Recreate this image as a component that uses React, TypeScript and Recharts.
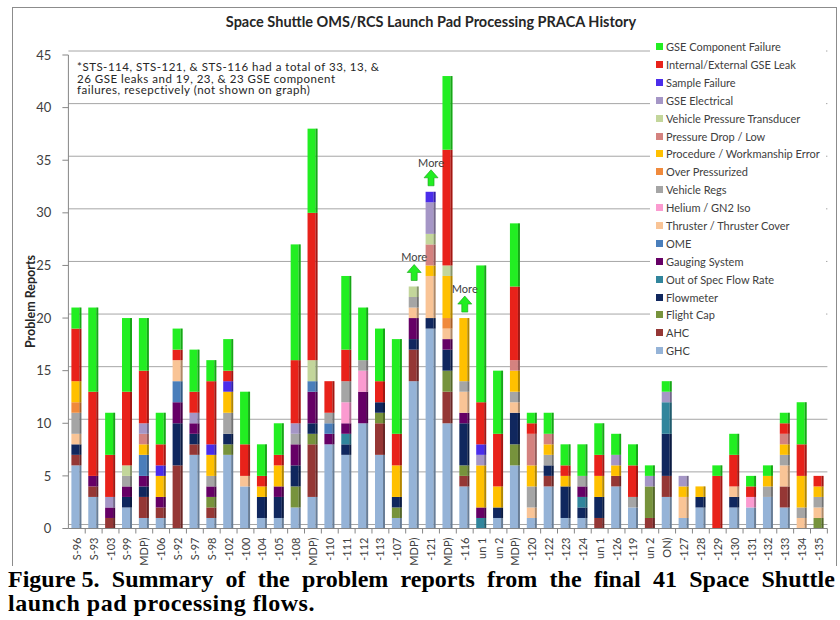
import React from "react";
import { Bar, BarChart, CartesianGrid, Legend, ReferenceDot, XAxis, YAxis } from "recharts";

// visible (cropped) flow labels, left to right
const flows = [
  "S-96", "S-93", "-103", "S-99", "MDP)", "-106", "S-92", "S-97", "S-98", "-102",
  "-100", "-104", "-105", "-108", "MDP)", "-110", "-111", "-112", "-113", "-107",
  "MDP)", "-121", "MDP)", "-116", "un 1", "un 2", "MDP)", "-120", "-122", "-123",
  "-124", "un 1", "-126", "-119", "un 2", "ON)", "-127", "-128", "-129", "-130",
  "-131", "-132", "-133", "-134", "-135",
];

const ghc = [6, 3, 0, 2, 1, 1, 0, 7, 1, 7, 4, 1, 1, 2, 3, 8, 7, 10, 7, 1, 14, 19, 10, 4, 0, 1, 6, 1, 4, 1, 1, 0, 4, 2, 0, 3, 1, 2, 0, 2, 2, 3, 2, 0, 0];
const ahc = [1, 1, 1, 0, 2, 1, 6, 1, 1, 0, 0, 0, 0, 0, 5, 0, 0, 0, 3, 0, 3, 0, 3, 1, 0, 0, 0, 0, 1, 0, 0, 1, 1, 0, 1, 2, 0, 0, 0, 0, 0, 0, 2, 0, 0];
const flightCap = [0, 0, 0, 0, 0, 0, 0, 0, 1, 1, 0, 0, 0, 2, 1, 0, 0, 0, 1, 1, 0, 0, 2, 1, 0, 0, 2, 0, 0, 0, 0, 0, 0, 0, 3, 0, 0, 0, 0, 0, 0, 0, 0, 0, 1];
const flowmeter = [1, 0, 0, 1, 1, 0, 4, 1, 0, 1, 0, 2, 2, 2, 1, 0, 1, 0, 1, 1, 1, 1, 2, 4, 0, 1, 3, 0, 1, 3, 1, 2, 0, 0, 0, 4, 0, 1, 0, 1, 0, 0, 0, 0, 0];
const outOfSpec = [0, 0, 0, 0, 0, 0, 0, 0, 0, 0, 0, 0, 0, 0, 0, 0, 1, 0, 0, 0, 0, 0, 0, 0, 1, 0, 0, 0, 0, 0, 1, 0, 0, 0, 0, 3, 0, 0, 0, 0, 0, 0, 0, 0, 0];
const gauging = [0, 1, 1, 1, 1, 1, 2, 1, 1, 0, 0, 0, 1, 2, 3, 1, 1, 3, 0, 0, 2, 0, 1, 1, 1, 0, 0, 0, 0, 0, 1, 0, 0, 0, 0, 0, 0, 0, 0, 0, 0, 0, 0, 0, 0];
const ome = [0, 0, 0, 0, 2, 0, 2, 0, 0, 0, 0, 0, 0, 0, 1, 1, 0, 0, 0, 0, 0, 0, 0, 0, 0, 0, 0, 0, 0, 0, 0, 0, 0, 0, 0, 0, 0, 0, 0, 0, 0, 0, 0, 0, 0];
const thruster = [1, 0, 0, 0, 0, 0, 2, 0, 0, 0, 1, 0, 0, 0, 0, 0, 0, 0, 0, 0, 1, 4, 1, 2, 0, 0, 1, 1, 0, 0, 0, 0, 0, 0, 0, 0, 2, 0, 0, 1, 0, 0, 2, 1, 1];
const helium = [0, 0, 0, 0, 0, 0, 0, 0, 0, 0, 0, 0, 0, 0, 0, 0, 2, 2, 0, 0, 0, 0, 0, 0, 0, 0, 0, 0, 0, 0, 0, 0, 0, 0, 0, 0, 0, 0, 0, 0, 1, 0, 0, 0, 0];
const vehicleRegs = [2, 0, 0, 1, 0, 0, 0, 0, 1, 2, 0, 0, 0, 1, 0, 1, 2, 1, 0, 0, 1, 0, 0, 1, 0, 0, 1, 2, 1, 0, 1, 0, 0, 1, 0, 0, 0, 0, 0, 0, 0, 1, 1, 1, 1];
const overPress = [1, 0, 0, 0, 0, 0, 0, 0, 0, 0, 0, 0, 0, 0, 0, 0, 0, 0, 0, 0, 0, 0, 1, 0, 0, 0, 0, 0, 0, 0, 0, 0, 0, 0, 0, 0, 0, 0, 0, 0, 0, 0, 0, 0, 0];
const procedure = [2, 0, 0, 0, 1, 2, 0, 0, 2, 2, 0, 1, 2, 0, 0, 0, 0, 0, 0, 3, 0, 1, 4, 6, 4, 2, 2, 2, 1, 1, 0, 2, 1, 0, 0, 0, 1, 1, 0, 0, 0, 1, 1, 3, 1];
const pressDrop = [0, 0, 0, 0, 1, 0, 0, 0, 0, 0, 0, 0, 0, 0, 0, 0, 0, 0, 0, 0, 0, 2, 0, 0, 0, 0, 1, 3, 1, 0, 0, 0, 0, 0, 0, 0, 0, 0, 0, 0, 0, 0, 1, 0, 0];
const vpt = [0, 0, 0, 1, 0, 0, 0, 0, 0, 0, 0, 0, 0, 0, 2, 0, 0, 0, 0, 0, 1, 1, 1, 0, 0, 0, 0, 0, 0, 0, 0, 0, 0, 0, 0, 0, 0, 0, 0, 0, 0, 0, 0, 0, 0];
const gseElec = [0, 0, 1, 0, 1, 0, 0, 1, 0, 0, 0, 0, 0, 1, 0, 0, 0, 0, 0, 0, 0, 3, 0, 0, 1, 0, 0, 0, 0, 0, 0, 0, 1, 0, 1, 1, 1, 0, 0, 0, 0, 0, 0, 0, 0];
const sample = [0, 0, 0, 0, 0, 1, 0, 0, 1, 1, 0, 0, 0, 0, 0, 0, 0, 0, 0, 0, 0, 1, 0, 0, 1, 0, 0, 0, 0, 0, 0, 0, 0, 0, 0, 0, 0, 0, 0, 0, 0, 0, 0, 0, 0];
const gseLeak = [5, 8, 4, 7, 5, 2, 1, 2, 6, 1, 3, 1, 1, 6, 14, 3, 3, 0, 2, 3, 0, 0, 11, 0, 4, 5, 7, 1, 0, 1, 0, 2, 0, 3, 0, 0, 0, 0, 5, 3, 1, 0, 1, 3, 1];
const gseComp = [2, 8, 4, 7, 5, 3, 2, 4, 2, 3, 5, 3, 3, 11, 8, 0, 7, 5, 5, 9, 0, 0, 7, 0, 13, 6, 6, 1, 2, 2, 3, 3, 2, 2, 1, 1, 0, 0, 1, 2, 1, 1, 1, 4, 0];

const yTicks = [0, 5, 10, 15, 20, 25, 30, 35, 40, 45];
// flows whose count runs off the graph (see note)
const moreAt = [20, 21, 23];

// bottom of stack first
const series = [
  { key: "ghc", name: "GHC", color: "#95B3D7", values: ghc },
  { key: "ahc", name: "AHC", color: "#953735", values: ahc },
  { key: "flightCap", name: "Flight Cap", color: "#77933C", values: flightCap },
  { key: "flowmeter", name: "Flowmeter", color: "#10275E", values: flowmeter },
  { key: "outOfSpec", name: "Out of Spec Flow Rate", color: "#31859C", values: outOfSpec },
  { key: "gauging", name: "Gauging System", color: "#660066", values: gauging },
  { key: "ome", name: "OME", color: "#4A7EBB", values: ome },
  { key: "thruster", name: "Thruster / Thruster Cover", color: "#F9C496", values: thruster },
  { key: "helium", name: "Helium / GN2 Iso", color: "#FB9BD0", values: helium },
  { key: "vehicleRegs", name: "Vehicle Regs", color: "#A5A5A5", values: vehicleRegs },
  { key: "overPress", name: "Over Pressurized", color: "#F08A3C", values: overPress },
  { key: "procedure", name: "Procedure / Workmanship Error", color: "#FFC000", values: procedure },
  { key: "pressDrop", name: "Pressure Drop / Low", color: "#D4827F", values: pressDrop },
  { key: "vpt", name: "Vehicle Pressure Transducer", color: "#C3D69B", values: vpt },
  { key: "gseElec", name: "GSE Electrical", color: "#A596C6", values: gseElec },
  { key: "sample", name: "Sample Failure", color: "#4B2DEB", values: sample },
  { key: "gseLeak", name: "Internal/External GSE Leak", color: "#E8221A", values: gseLeak },
  { key: "gseComp", name: "GSE Component Failure", color: "#22EE22", values: gseComp },
];

const data = flows.map((flow, i) => {
  const row: Record<string, any> = { key: String(i), flow };
  series.forEach((s) => (row[s.key] = s.values[i]));
  return row;
});
const totals = flows.map((_, i) => series.reduce((acc, s) => acc + s.values[i], 0));

function Bar3D(props: any) {
  const { x, y, width, height, fill } = props;
  if (!height || height <= 0) return null;
  const side = 2;
  return (
    <g>
      <rect x={x} y={y} width={width - side} height={height} fill={fill} />
      <rect x={x + width - side} y={y} width={side} height={height} fill={fill} />
      <rect x={x + width - side} y={y} width={side} height={height} fill="#000" fillOpacity={0.3} />
    </g>
  );
}

function MoreMark({ cx, cy }: any) {
  return (
    <g>
      <text x={cx} y={cy - 25} textAnchor="middle" fontSize={11} fill="#404040">
        More
      </text>
      <path
        d={`M${cx - 3},${cy - 6} v-8 h-4 l7,-8 l7,8 h-4 v8 z`}
        fill="#22EE22"
        stroke="#14A014"
        strokeWidth={0.6}
      />
    </g>
  );
}

function FlowTick({ x, y, payload }: any) {
  const label = flows[Number(payload.value)];
  return (
    <g>
      <line x1={x + 8.4} x2={x + 8.4} y1={y - 8} y2={y - 3} stroke="#868686" />
      <text transform={`translate(${x + 4},${y + 1}) rotate(-90)`} textAnchor="end" fontSize={11} fill="#404040">
        {label}
      </text>
    </g>
  );
}

function LegendList() {
  const items = [...series].reverse();
  return (
    <div style={{ background: "#fff", padding: 0 }}>
      {items.map((s) => (
        <div key={s.key} style={{ height: 17.9, display: "flex", alignItems: "center", fontSize: 11, color: "#404040" }}>
          <span style={{ width: 7, height: 7, background: s.color, marginLeft: 6, marginRight: 3, display: "inline-block" }} />
          <span style={{ whiteSpace: "nowrap" }}>{s.name}</span>
        </div>
      ))}
    </div>
  );
}

// back-wall gridlines sit a few px above the axis ticks
const gridY = ({ offset }: any) => yTicks.map((t) => offset.top + offset.height * (1 - t / 45) - 4);

export default function App() {
  return (
    <div style={{ position: "absolute", left: 0, top: 0, width: 840, height: 620, background: "#fff", fontFamily: "Lato, sans-serif" }}>
      <div
        style={{
          position: "absolute",
          left: 12,
          top: 7,
          width: 823,
          height: 558,
          borderLeft: "1px solid #8C8C8C",
          borderTop: "1px solid #8C8C8C",
          borderRight: "1px solid #8C8C8C",
          overflow: "hidden",
        }}
      >
        <div style={{ position: "absolute", left: -13, top: -8, width: 840, height: 570 }}>
          <BarChart
            width={840}
            height={570}
            data={data}
            barSize={10}
            margin={{ top: 55, right: 12.6, bottom: 11.5, left: 8.4 }}
          >
            <CartesianGrid vertical={false} stroke="#A6A6A6" horizontalCoordinatesGenerator={gridY} />
            <XAxis
              dataKey="key"
              interval={0}
              height={30}
              tickLine={false}
              axisLine={{ stroke: "#868686" }}
              tick={<FlowTick />}
            />
            <YAxis
              domain={[0, 45]}
              ticks={yTicks}
              width={60}
              tickSize={6}
              tickMargin={11}
              axisLine={{ stroke: "#868686" }}
              tickLine={{ stroke: "#868686" }}
              tick={{ fontSize: 13, fill: "#404040" }}
            />
            <Legend
              layout="horizontal"
              align="center"
              verticalAlign="middle"
              content={() => <LegendList />}
              wrapperStyle={{ left: 650, top: 37.7, width: 176, height: 322 }}
            />
            {series.map((s) => (
              <Bar
                key={s.key}
                dataKey={s.key}
                name={s.name}
                stackId="pr"
                fill={s.color}
                shape={<Bar3D />}
                isAnimationActive={false}
              />
            ))}
            {moreAt.map((i) => (
              <ReferenceDot key={i} x={String(i)} y={totals[i]} r={0} shape={<MoreMark />} />
            ))}
          </BarChart>
        </div>
        <div
          style={{
            position: "absolute",
            left: 0,
            top: 5,
            width: 823,
            textAlign: "center",
            fontWeight: 700,
            fontSize: 14.5,
            color: "#262626",
            paddingLeft: 13,
            boxSizing: "border-box",
          }}
        >
          Space Shuttle OMS/RCS Launch Pad Processing PRACA History
        </div>
        <div
          style={{
            position: "absolute",
            left: 8,
            top: 283,
            width: 20,
            height: 20,
            display: "flex",
            alignItems: "center",
            justifyContent: "center",
          }}
        >
          <div style={{ transform: "rotate(-90deg)", whiteSpace: "nowrap", fontWeight: 700, fontSize: 12.5, color: "#262626" }}>
            Problem Reports
          </div>
        </div>
        <div
          style={{
            position: "absolute",
            left: 64,
            top: 53,
            fontSize: 11.5,
            lineHeight: "11.5px",
            letterSpacing: 0.5,
            color: "#262626",
          }}
        >
          *STS-114, STS-121, &amp; STS-116 had a total of 33, 13, &amp;
          <br />
          26 GSE leaks and 19, 23, &amp; 23 GSE component
          <br />
          failures, resepctively (not shown on graph)
        </div>
      </div>
      <div
        style={{
          position: "absolute",
          left: 8,
          top: 567,
          width: 827,
          fontFamily: "'Liberation Serif', serif",
          fontWeight: 700,
          fontSize: 24,
          lineHeight: "24px",
          color: "#000",
        }}
      >
        <div style={{ display: "flex", justifyContent: "space-between", whiteSpace: "nowrap" }}>
          <span>Figure 5.</span>
          <span>Summary</span>
          <span>of</span>
          <span>the</span>
          <span>problem</span>
          <span>reports</span>
          <span>from</span>
          <span>the</span>
          <span>final</span>
          <span>41</span>
          <span>Space</span>
          <span>Shuttle</span>
        </div>
        <div style={{ letterSpacing: 0.5 }}>launch pad processing flows.</div>
      </div>
    </div>
  );
}
